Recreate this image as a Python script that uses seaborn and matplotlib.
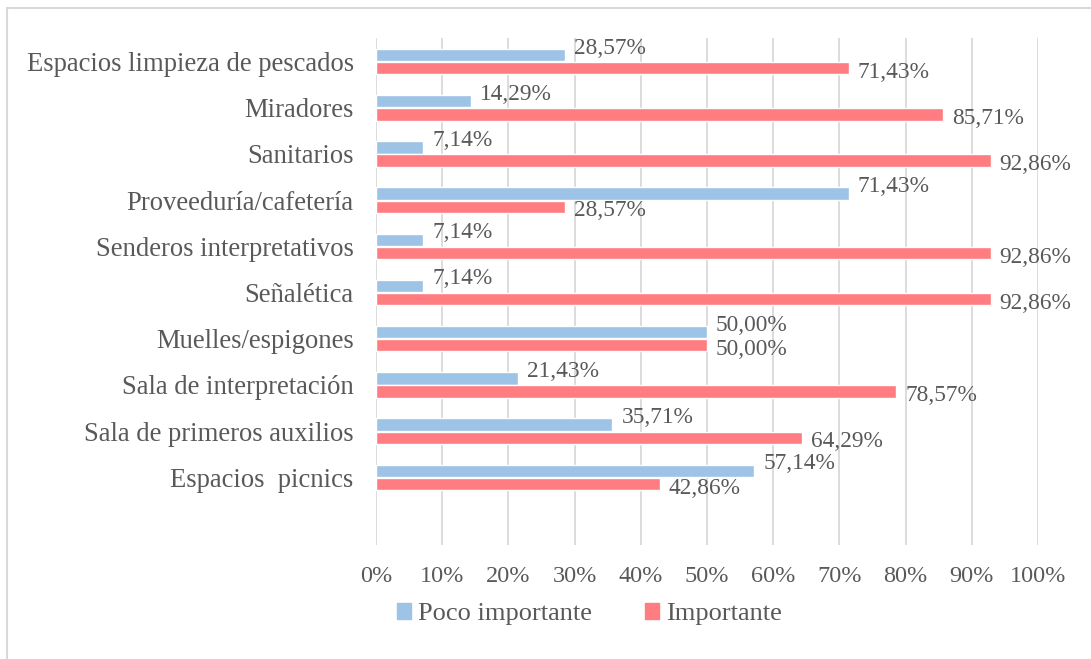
import pandas as pd
import matplotlib.pyplot as plt
import seaborn as sns
from matplotlib.patches import Rectangle

# Chart data (top to bottom)
categories = ['Espacios limpieza de pescados', 'Miradores', 'Sanitarios',
              'Proveeduría/cafetería', 'Senderos interpretativos', 'Señalética',
              'Muelles/espigones', 'Sala de interpretación',
              'Sala de primeros auxilios', 'Espacios  picnics']
poco_importante = [28.57, 14.29, 7.14, 71.43, 7.14, 7.14, 50.00, 21.43, 35.71, 57.14]
importante = [71.43, 85.71, 92.86, 28.57, 92.86, 92.86, 50.00, 78.57, 64.29, 42.86]
series = ['Poco importante', 'Importante']
x_ticks = list(range(0, 101, 10))

df = pd.DataFrame({
    'categoria': categories * 2,
    'valor': poco_importante + importante,
    'serie': [series[0]] * len(categories) + [series[1]] * len(categories),
})

sns.set_style('white')
plt.rcParams['font.family'] = ['Liberation Serif', 'DejaVu Serif']
text_color = '#595959'
palette = {'Poco importante': '#9DC3E6', 'Importante': '#FF7C80'}

fig = plt.figure(figsize=(10.91, 6.59), dpi=100)
ax = fig.add_axes([0.3446, 0.173, 0.6068, 0.7693])

sns.barplot(data=df, x='valor', y='categoria', hue='serie', order=categories,
            hue_order=series, palette=palette, orient='h', width=0.57, gap=0.06,
            saturation=1, ax=ax, legend=False)

# data labels
offsets = {0: (6.5, 5), 1: (6.5, -3)}
for i, cont in enumerate(ax.containers):
    for bar in cont:
        v = bar.get_width()
        ax.annotate(f'{v:.2f}'.replace('.', ',') + '%',
                    xy=(v, bar.get_y() + bar.get_height() / 2),
                    xytext=offsets[i], textcoords='offset points',
                    ha='left', va='center', fontsize=16.8, color=text_color)

ax.set_xlim(0, 100)
ax.set_ylim(10.465, -0.509)
ax.set_xticks(x_ticks)
ax.set_xticklabels([f'{t}%' for t in x_ticks])
ax.grid(axis='x', color='#d9d9d9', linewidth=1.3)
ax.set_axisbelow(True)
for s in ax.spines.values():
    s.set_visible(False)
ax.tick_params(axis='x', length=0, pad=15, labelsize=17.5, labelcolor=text_color)
ax.tick_params(axis='y', length=0, pad=16, labelsize=19.2, labelcolor=text_color)
ax.set_xlabel('')
ax.set_ylabel('')

# legend
handles = [Rectangle((0, 0), 1, 1, color=palette[s]) for s in series]
fig.legend(handles, series, loc='center', bbox_to_anchor=(0.54, 0.068), ncol=2,
           frameon=False, fontsize=19, labelcolor=text_color,
           handlelength=0.55, handleheight=0.55, handletextpad=0.25, columnspacing=2.0)

# chart border
fig.patches.append(Rectangle((7 / 1091, -0.1), 1.2, 1 - 8 / 659 + 0.1,
                             transform=fig.transFigure, fill=False,
                             edgecolor='#d9d9d9', linewidth=1.5))

fig.savefig('out.png', dpi=100)
